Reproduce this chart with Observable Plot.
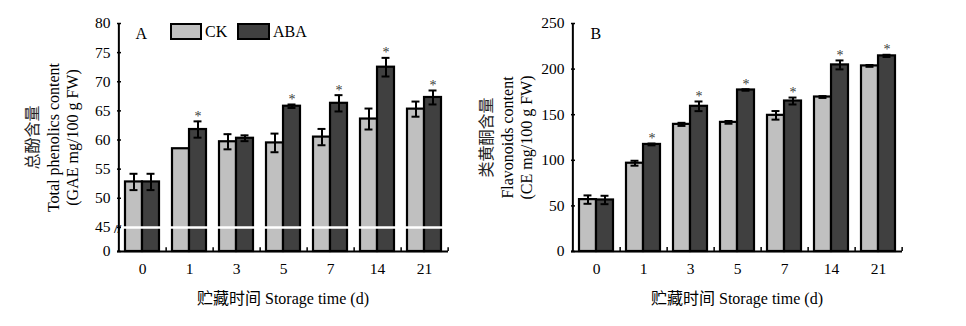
<!DOCTYPE html>
<html><head><meta charset="utf-8">
<script src="https://cdn.jsdelivr.net/npm/d3@7"></script>
<script src="https://cdn.jsdelivr.net/npm/@observablehq/plot@0.6"></script>
<style>
body{margin:0;background:#fff}
#wrap{position:relative;width:966px;height:326px;display:flex;background:#fff}
.sw{position:absolute;border:2px solid #000;box-sizing:border-box;height:17px}
.lt{position:absolute;font-family:'Liberation Serif','Noto Sans CJK SC',serif;font-size:16px;line-height:17px;color:#000}
</style></head><body>
<div id="wrap"><div id="a"></div><div id="b"></div>
<div class="sw" style="left:170px;top:23px;width:32px;background:#c0c0c0"></div>
<div class="lt" style="left:205px;top:23px">CK</div>
<div class="sw" style="left:237px;top:23px;width:33px;background:#404040"></div>
<div class="lt" style="left:273px;top:23px">ABA</div>
</div>
<script>
const days = ["0","1","3","5","7","14","21"];
const seriesNames = ["CK","ABA"];
const phenolCK = [52.8,58.5,59.7,59.5,60.5,63.6,65.3];
const phenolCKErr = [1.4,0,1.3,1.6,1.4,1.8,1.3];
const phenolABA = [52.8,61.8,60.3,65.8,66.3,72.5,67.3];
const phenolABAErr = [1.4,1.4,0.5,0.3,1.4,1.6,1.2];
const phenolSig = [false,true,false,true,true,true,true];
const flavCK = [56.9,96.8,139.4,141.6,149.3,169.4,203.5];
const flavCKErr = [4.6,2.7,1.7,1.5,4.7,1.0,1.0];
const flavABA = [56.5,117.4,159.2,177.1,165.0,204.6,214.5];
const flavABAErr = [4.6,1.0,5.3,0.8,3.8,4.9,1.2];
const flavSig = [false,true,true,true,true,true,true];
const yTicksA = [0,45,50,55,60,65,70,75,80];
const yTicksB = [0,50,100,150,200,250];
const titlesA = ["总酚含量","Total phenolics content","(GAE mg/100 g FW)"];
const titlesB = ["类黄酮含量","Flavonoids content","(CE mg/100 g FW)"];
const xTitle = "贮藏时间 Storage time (d)";

const FONT = "'Liberation Serif','Noto Sans CJK SC',serif";

// broken axis for panel A: 0–45 compressed below the break
const BREAK = 45, SQUEEZE = 0.092;
const breakTransform = v => v >= BREAK ? v : BREAK - (BREAK - v) * SQUEEZE;

function panel(o) {
  const width = 483, height = 326;
  const W = width - o.marginLeft - o.marginRight;
  const step = W / days.length;
  const bw = step * 0.72, hb = bw / 2, q = hb / 2, cap = 4;
  const rows = days.map((d, i) => ({day: d, ck: o.ck[i], ckErr: o.ckErr[i], aba: o.aba[i], abaErr: o.abaErr[i], sig: o.sig[i]}));
  const ckE = rows.filter(d => d.ckErr > 0);
  const abaE = rows.filter(d => d.abaErr > 0);
  const marks = [
    Plot.barY(rows, {x: "day", y1: 0, y2: "ck", fill: "#c0c0c0", stroke: "#000", strokeWidth: 2.2, insetRight: hb}),
    Plot.barY(rows, {x: "day", y1: 0, y2: "aba", fill: "#404040", stroke: "#000", strokeWidth: 2.2, insetLeft: hb}),
    Plot.ruleX(ckE, {x: "day", y1: d => d.ck - d.ckErr, y2: d => d.ck + d.ckErr, dx: -q, strokeWidth: 2}),
    Plot.tickY(ckE, {x: "day", y: d => d.ck + d.ckErr, insetLeft: q - cap, insetRight: bw - q - cap, strokeWidth: 2}),
    Plot.tickY(ckE, {x: "day", y: d => d.ck - d.ckErr, insetLeft: q - cap, insetRight: bw - q - cap, strokeWidth: 2}),
    Plot.ruleX(abaE, {x: "day", y1: d => d.aba - d.abaErr, y2: d => d.aba + d.abaErr, dx: q, strokeWidth: 2, stroke: "#000"}),
    Plot.tickY(abaE, {x: "day", y: d => d.aba + d.abaErr, insetLeft: hb + q - cap, insetRight: q - cap, strokeWidth: 2}),
    Plot.tickY(abaE, {x: "day", y: d => d.aba - d.abaErr, insetLeft: hb + q - cap, insetRight: q - cap, strokeWidth: 2}),
    Plot.text(rows.filter(d => d.sig), {x: "day", y: d => d.aba + d.abaErr, text: () => "*", dx: q, dy: -5, fill: "#3a3a3a", fontSize: 14, lineAnchor: "middle"})
  ];
  if (o.broken) {
    marks.push(Plot.ruleY([BREAK], {y: d => d, stroke: "#fff", strokeWidth: 2.5, insetLeft: 2}));
  }
  marks.push(
    Plot.ruleY([0], {y: d => d, strokeWidth: 2}),
    Plot.ruleX([days[0]], {x: d => d, dx: -step / 2, y1: 0, y2: o.yMax, strokeWidth: 2}),
    Plot.ruleX(days, {x: d => d, dx: step / 2, y1: 0, y2: o.tickLen, strokeWidth: 1.5}),
    Plot.tickY(o.yTicks, {y: d => d, insetRight: W - 4, strokeWidth: 1.5}),
    Plot.axisY(o.yTicks, {tickSize: 0, tickPadding: 7, fontSize: 15.5, label: null}),
    Plot.axisX({tickSize: 0, tickPadding: 11, fontSize: 15.5, label: null}),
    Plot.text([o.letter], {frameAnchor: "top-left", text: d => d, dx: o.letterDx, dy: 10, textAnchor: "start", lineAnchor: "middle", fontSize: 16}),
    Plot.text([o.titles[0]], {frameAnchor: "left", text: d => d, rotate: -90, dx: -85, textAnchor: "middle", lineAnchor: "middle", fontSize: 16, fill: "#222"}),
    Plot.text([o.titles[1]], {frameAnchor: "left", text: d => d, rotate: -90, dx: -64, textAnchor: "middle", lineAnchor: "middle", fontSize: 16}),
    Plot.text([o.titles[2]], {frameAnchor: "left", text: d => d, rotate: -90, dx: -45, textAnchor: "middle", lineAnchor: "middle", fontSize: 16}),
    Plot.text([xTitle], {frameAnchor: "bottom", text: d => d, dy: 47, textAnchor: "middle", lineAnchor: "middle", fontSize: 16})
  );
  if (o.broken) {
    marks.push(Plot.text([BREAK], {y: d => d, frameAnchor: "left", text: () => "//", textAnchor: "middle", fontSize: 13, fontWeight: "bold", dy: 1}));
  }
  return Plot.plot({
    width, height,
    marginLeft: o.marginLeft, marginRight: o.marginRight, marginTop: 23, marginBottom: 75,
    style: {fontFamily: FONT, fontSize: "15px", background: "transparent", color: "#000", overflow: "visible"},
    x: {domain: days, paddingInner: 0.28, paddingOuter: 0.14, axis: null},
    y: o.yScale,
    marks
  });
}

document.getElementById("a").appendChild(panel({
  ck: phenolCK, ckErr: phenolCKErr, aba: phenolABA, abaErr: phenolABAErr, sig: phenolSig,
  yScale: {transform: breakTransform, zero: false, nice: false, axis: null},
  yTicks: yTicksA, yMax: 80, tickLen: 7, marginLeft: 117, marginRight: 35,
  letter: "A", letterDx: 18, titles: titlesA, broken: true
}));
document.getElementById("b").appendChild(panel({
  ck: flavCK, ckErr: flavCKErr, aba: flavABA, abaErr: flavABAErr, sig: flavSig,
  yScale: {domain: [0, 250], axis: null},
  yTicks: yTicksB, yMax: 250, tickLen: 4.4, marginLeft: 88, marginRight: 64,
  letter: "B", letterDx: 19, titles: titlesB, broken: false
}));
</script>
</body></html>
